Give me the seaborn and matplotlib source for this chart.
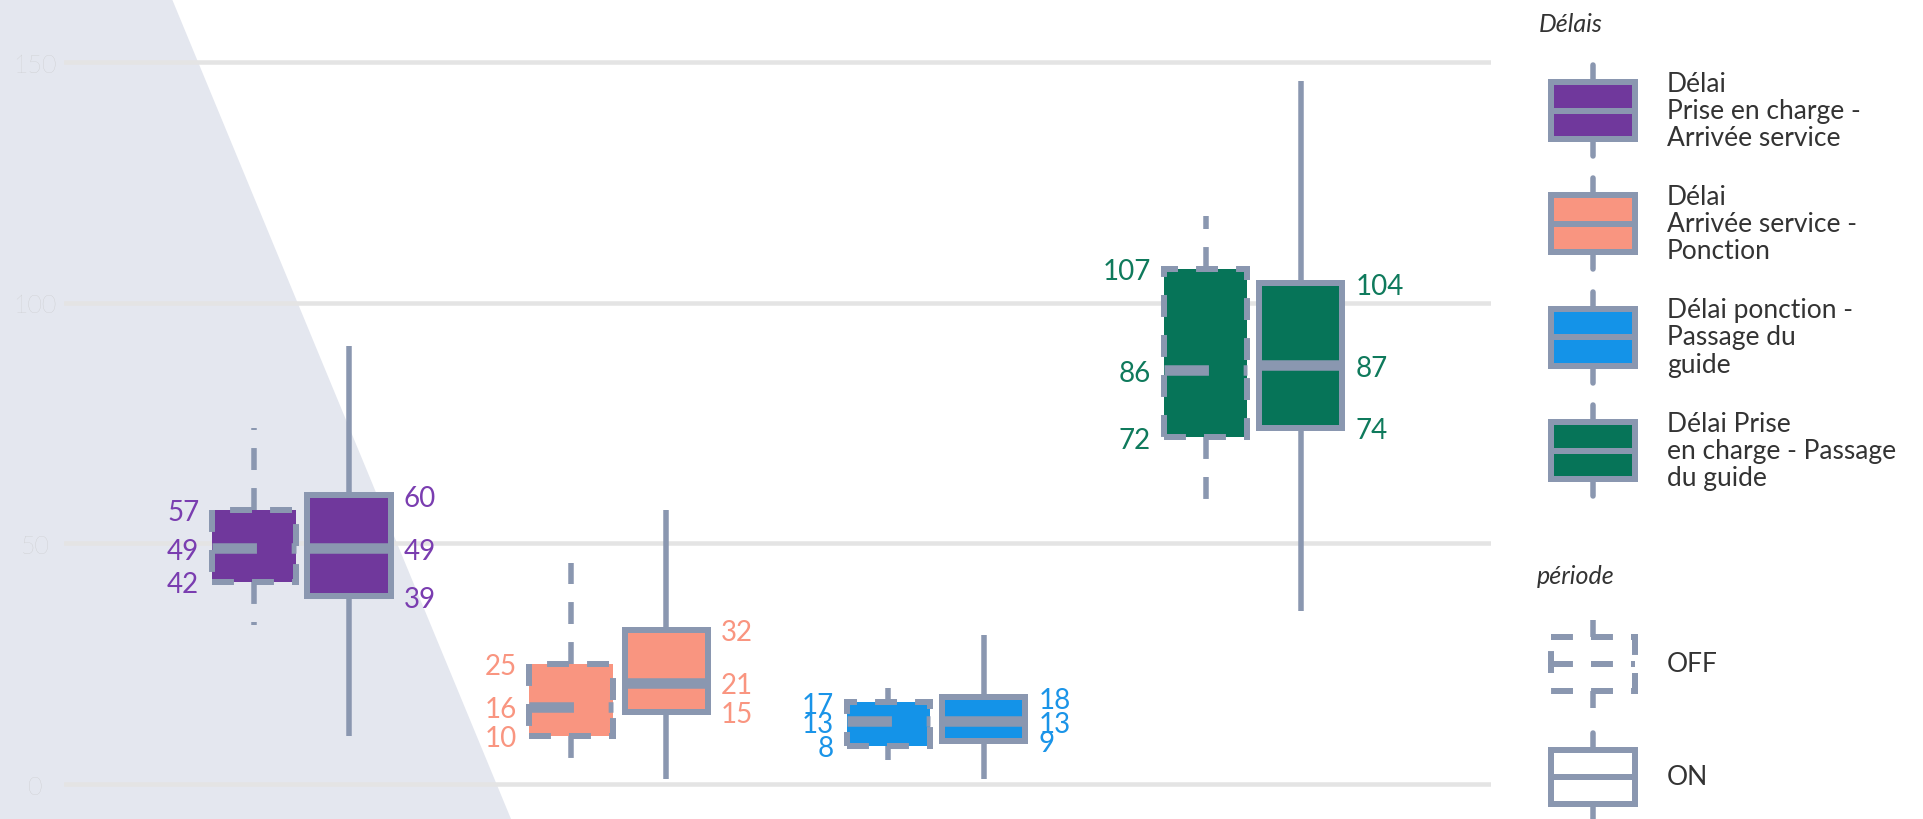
import numpy as np
import pandas as pd
import matplotlib
matplotlib.use("Agg")
import matplotlib.pyplot as plt
import seaborn as sns
from matplotlib.patches import Polygon, Rectangle

# ---------------- data ----------------
categories = [
    "Délai\nPrise en charge -\nArrivée service",
    "Délai\nArrivée service -\nPonction",
    "Délai ponction -\nPassage du\nguide",
    "Délai Prise\nen charge - Passage\ndu guide",
]
periods = ["OFF", "ON"]

off_low = [33, 5, 5, 59]
off_q1 = [42, 10, 8, 72]
off_med = [49, 16, 13, 86]
off_q3 = [57, 25, 17, 107]
off_high = [74, 46, 20, 118]

on_low = [10, 1, 1, 36]
on_q1 = [39, 15, 9, 74]
on_med = [49, 21, 13, 87]
on_q3 = [60, 32, 18, 104]
on_high = [91, 57, 31, 146]

y_ticks = [0, 50, 100, 150]

box_colors = ["#70389c", "#f99580", "#1493e8", "#067458"]
label_colors = ["#7a3db0", "#f99580", "#1a94e8", "#0f7a5c"]
LINE = "#8a97b0"

rows = []
for i, c in enumerate(categories):
    for p, stats in (
        ("OFF", (off_low[i], off_q1[i], off_med[i], off_q3[i], off_high[i])),
        ("ON", (on_low[i], on_q1[i], on_med[i], on_q3[i], on_high[i])),
    ):
        for v in stats:
            rows.append({"delai": c, "periode": p, "valeur": v})
df = pd.DataFrame(rows)

# ---------------- style ----------------
sns.set_style("white")
plt.rcParams["font.family"] = ["Lato", "DejaVu Sans"]
plt.rcParams["lines.scale_dashes"] = False

W, H = 1924, 820
fig = plt.figure(figsize=(W / 100, H / 100), dpi=100)
fig.patch.set_facecolor("white")

# grey background trapezoid
bg = Polygon([(0, 1), (172 / W, 1), (511 / W, 0), (0, 0)], closed=True,
             transform=fig.transFigure, facecolor="#e4e7ef", edgecolor="none", zorder=-10)
fig.add_artist(bg)

ax = fig.add_axes([64 / W, 0, (1491 - 64) / W, 1])
ax.set_facecolor("none")

px = 0.72  # points per pixel at 100 dpi
lw_box = 6 * px
lw_whisk = 5.5 * px
lw_med = 10.5 * px
dash_box = (0, (15.8, 13))
dash_med = (0, (32, 25))

WIDTH = 0.6
GAP = 0.123

sns.boxplot(
    data=df, x="delai", y="valeur", hue="periode",
    order=categories, hue_order=periods,
    palette={"OFF": "white", "ON": "white"},
    width=WIDTH, gap=GAP, whis=(0, 100),
    showcaps=False, showfliers=False,
    linecolor=LINE, linewidth=lw_box,
    boxprops=dict(linewidth=lw_box),
    whiskerprops=dict(linewidth=lw_whisk, color=LINE),
    medianprops=dict(linewidth=lw_med, color=LINE),
    legend=False, ax=ax,
)

# recolor boxes by category, dash the OFF period
for patch in ax.patches:
    verts = patch.get_path().vertices
    xm = verts[:, 0].mean()
    idx = int(round(xm))
    patch.set_facecolor(box_colors[idx])
    patch.set_edgecolor(LINE)
    if xm < idx:
        patch.set_linestyle(dash_box)

for line in ax.lines:
    xd = np.asarray(line.get_xdata(), dtype=float)
    if xd.size == 0:
        continue
    xm = xd.mean()
    idx = int(round(xm))
    if xm < idx:
        if abs(xd[0] - xd[-1]) > 1e-9:   # horizontal -> median
            line.set_linestyle(dash_med)
        else:
            line.set_linestyle(dash_box)

ax.set_xlim(-0.749, 3.750)
ax.set_ylim(-7.27, 163.09)
ax.set_xlabel("")
ax.set_ylabel("")
ax.set_xticks([])
for s in ax.spines.values():
    s.set_visible(False)

ax.set_yticks(y_ticks)
ax.set_yticklabels([str(t) for t in y_ticks])
ax.tick_params(axis="y", length=0, pad=29 * px, labelsize=18, labelcolor="#c4c4c4")
for lbl in ax.get_yticklabels():
    lbl.set_horizontalalignment("center")
    lbl.set_fontweight("light")
ax.yaxis.grid(True, color="#e4e4e4", linewidth=4.5 * px)
ax.xaxis.grid(False)
ax.set_axisbelow(True)

# value labels
half = WIDTH / 4 + (WIDTH / 2) * (1 - GAP) / 2
for i in range(len(categories)):
    for v in (off_q1[i], off_med[i], off_q3[i]):
        ax.annotate(f"{v}", xy=(i - half, v), xytext=(-13, 0), textcoords="offset pixels",
                    ha="right", va="center_baseline", color=label_colors[i],
                    fontsize=20)
    for v in (on_q1[i], on_med[i], on_q3[i]):
        ax.annotate(f"{v}", xy=(i + half, v), xytext=(13, 0), textcoords="offset pixels",
                    ha="left", va="center_baseline", color=label_colors[i],
                    fontsize=20)

# ---------------- legend (drawn in pixel space) ----------------
lg = fig.add_axes([0, 0, 1, 1])
lg.set_xlim(0, W)
lg.set_ylim(H, 0)
lg.axis("off")
lg.set_facecolor("none")

TXT = "#333333"
lg.text(1539, 25, "Délais", fontsize=18, style="italic", color=TXT,
        ha="left", va="center")


def legend_box(yc, h, face, ls):
    x0, x1 = 1551, 1635
    xm = (x0 + x1) / 2
    lg.add_patch(Rectangle((x0, yc - h / 2), x1 - x0, h, facecolor=face,
                           edgecolor=LINE, linewidth=lw_box, linestyle=ls, zorder=2))
    lg.plot([xm, xm], [yc - h / 2 - 17, yc - h / 2], color=LINE, lw=lw_whisk,
            linestyle=ls, zorder=1)
    lg.plot([xm, xm], [yc + h / 2, yc + h / 2 + 17], color=LINE, lw=lw_whisk,
            linestyle=ls, zorder=1)
    lg.plot([x0, x1], [yc, yc], color=LINE, lw=6 * px, linestyle=ls, zorder=3)


item_centers = [111.5, 224.5, 338, 451.5]
for yc, col, lab in zip(item_centers, box_colors, categories):
    legend_box(yc, 57, col, "-")
    lg.text(1667, yc, lab, fontsize=19, color=TXT, ha="left", va="center",
            linespacing=1.12)

lg.text(1537, 577, "période", fontsize=18, style="italic", color=TXT,
        ha="left", va="center")
legend_box(665, 54, "none", dash_box)
lg.text(1667, 665, "OFF", fontsize=19, color=TXT, ha="left", va="center")
legend_box(778, 54, "none", "-")
lg.text(1667, 778, "ON", fontsize=19, color=TXT, ha="left", va="center")

fig.savefig("out.png", dpi=100, facecolor="white")
